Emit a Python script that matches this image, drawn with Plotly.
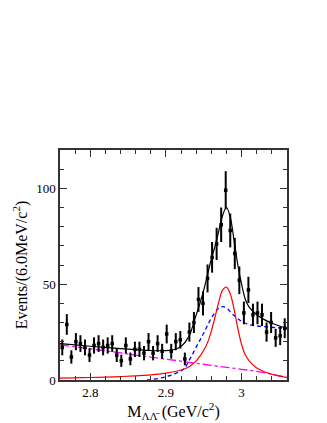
import plotly.graph_objects as go

# ---- data ----
bin_centers = [2.763, 2.769, 2.775, 2.781, 2.787, 2.793, 2.799, 2.805, 2.811, 2.817,
               2.823, 2.829, 2.835, 2.841, 2.847, 2.853, 2.859, 2.865, 2.871, 2.877,
               2.883, 2.889, 2.895, 2.901, 2.907, 2.913, 2.919, 2.925, 2.931, 2.937,
               2.943, 2.949, 2.955, 2.961, 2.967, 2.973, 2.979, 2.985, 2.991, 2.997,
               3.003, 3.009, 3.015, 3.021, 3.027, 3.033, 3.039, 3.045, 3.051, 3.057]
counts = [17, 29, 12, 20, 19, 17, 13, 18, 19, 17,
          18, 19, 13, 10, 18, 11, 16, 16, 14, 20,
          14, 19, 15, 24, 15, 20, 21, 11, 25, 30,
          42, 40, 53, 64, 71, 81, 99, 78, 66, 52,
          35, 47, 34, 35, 34, 25, 30, 22, 23, 27]
errors = [c ** 0.5 for c in counts]

# total fit (black)
fit_x = [2.76, 2.78, 2.80, 2.82, 2.84, 2.86, 2.88, 2.90, 2.91, 2.92, 2.93, 2.94, 2.945,
         2.95, 2.955, 2.96, 2.965, 2.97, 2.975, 2.98, 2.985, 2.99, 2.995, 3.00, 3.005,
         3.01, 3.02, 3.03, 3.04, 3.05, 3.06]
fit_y = [19.0, 18.3, 17.6, 17.0, 16.4, 15.9, 15.4, 15.3, 15.8, 17.5, 22.5, 34.0, 40.0,
         47.0, 55.0, 63.0, 70.0, 78.0, 86.0, 90.0, 85.0, 73.0, 60.0, 50.0, 42.0,
         38.0, 34.0, 31.5, 29.6, 28.2, 27.0]

# signal (red)
sig_x = [2.76, 2.78, 2.80, 2.82, 2.84, 2.86, 2.88, 2.90, 2.91, 2.92, 2.93, 2.94, 2.945,
         2.95, 2.955, 2.96, 2.965, 2.97, 2.975, 2.98, 2.985, 2.99, 2.995, 3.00, 3.005,
         3.01, 3.02, 3.03, 3.04, 3.05, 3.06]
sig_y = [1.0, 1.1, 1.3, 1.5, 1.8, 2.2, 2.7, 3.6, 4.3, 5.2, 6.8, 10.0, 12.5,
         15.5, 19.5, 25.5, 33.0, 41.0, 47.0, 48.5, 45.0, 37.0, 27.0, 18.5, 13.0,
         10.0, 6.3, 4.3, 3.0, 2.0, 1.3]

# other component (blue dashed)
oth_x = [2.875, 2.88, 2.89, 2.90, 2.91, 2.92, 2.925, 2.93, 2.935, 2.94, 2.945, 2.95,
         2.955, 2.96, 2.965, 2.97, 2.975, 2.98, 2.985, 2.99, 2.995, 3.00, 3.005, 3.01,
         3.02, 3.03, 3.04, 3.05, 3.06]
oth_y = [0.0, 0.2, 0.8, 1.7, 3.0, 4.8, 6.3, 9.8, 13.3, 17.2, 20.8, 24.5,
         28.5, 32.3, 35.3, 37.5, 38.3, 37.6, 35.6, 33.6, 32.0, 30.6, 29.6, 28.9,
         28.2, 27.8, 27.5, 27.2, 27.0]

# background (magenta dash-dot)
bkg_x = [2.76, 2.78, 2.80, 2.82, 2.84, 2.86, 2.88, 2.90, 2.92, 2.94, 2.96, 2.98,
         3.00, 3.02, 3.04, 3.06]
bkg_y = [18.3, 17.3, 16.3, 15.2, 14.1, 13.0, 11.9, 10.9, 9.8, 8.7, 7.6, 6.6,
         5.6, 4.5, 3.0, 1.3]

x_tickvals = [2.8, 2.9, 3.0]
x_ticktext = ["2.8", "2.9", "3"]
y_tickvals = [0, 50, 100]
y_ticktext = ["0", "50", "100"]

FONT = "Liberation Serif, Times New Roman, serif"

fig = go.Figure()
fig.add_trace(go.Scatter(x=bkg_x, y=bkg_y, mode="lines", line=dict(color="#ff00ff", width=1.3, dash="dashdot", shape="spline"), showlegend=False))
fig.add_trace(go.Scatter(x=oth_x, y=oth_y, mode="lines", line=dict(color="#0000ff", width=1.3, dash="4px,3px", shape="spline"), showlegend=False))
fig.add_trace(go.Scatter(x=sig_x, y=sig_y, mode="lines", line=dict(color="#ff0000", width=1.2, shape="spline"), showlegend=False))
fig.add_trace(go.Scatter(x=fit_x, y=fit_y, mode="lines", line=dict(color="#000000", width=1.2, shape="spline"), showlegend=False))
fig.add_trace(go.Scatter(
    x=bin_centers, y=counts, mode="markers",
    marker=dict(symbol="square", size=3.5, color="black"),
    error_y=dict(type="data", array=errors, visible=True, color="black", thickness=2, width=0),
    showlegend=False))

axis_common = dict(
    showgrid=False, zeroline=False, showline=True, linecolor="#333333", linewidth=1.5,
    mirror="allticks", ticks="inside", ticklen=7, tickwidth=1, tickcolor="#333333",
    tickfont=dict(family=FONT, size=13, color="black"),
)

fig.update_layout(
    width=327, height=423,
    margin=dict(l=52, r=48, t=142, b=51),
    paper_bgcolor="white", plot_bgcolor="white",
    font=dict(family=FONT, color="black"),
    xaxis=dict(
        range=[2.76, 3.06], tickvals=x_tickvals, ticktext=x_ticktext,
        minor=dict(dtick=0.02, tick0=2.76, ticks="inside", ticklen=4, tickcolor="#333333"),
        title=dict(text="M<sub>ΛΛ\u0304</sub> (GeV/c<sup>2</sup>)", font=dict(family=FONT, size=16), standoff=0),
        automargin=False,
        **axis_common),
    yaxis=dict(
        range=[0, 120], tickvals=y_tickvals, ticktext=y_ticktext,
        minor=dict(dtick=10, tick0=0, ticks="inside", ticklen=4, tickcolor="#333333"),
        title=dict(text="Events/(6.0MeV/c<sup>2</sup>)", font=dict(family=FONT, size=16), standoff=5),
        automargin=False,
        **axis_common),
)

fig.write_html("out.html")
